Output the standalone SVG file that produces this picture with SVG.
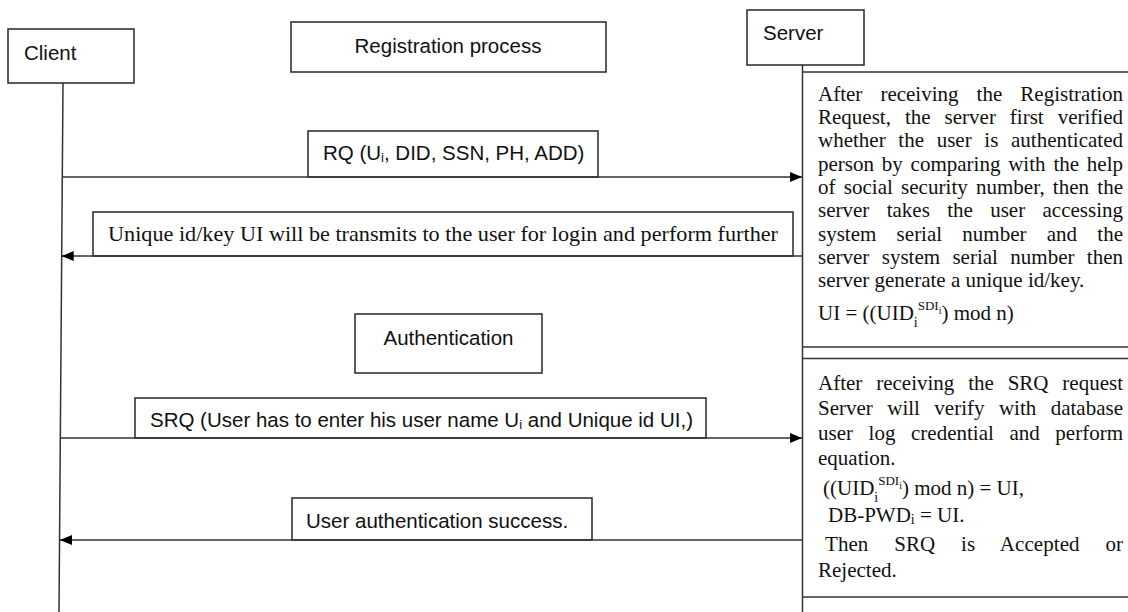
<svg xmlns="http://www.w3.org/2000/svg" width="1128" height="612" viewBox="0 0 1128 612">
<style>
.box{fill:#fff;stroke:#262626;stroke-width:1.5}
.lbl{fill:none;stroke:#262626;stroke-width:1.5}
.ln{fill:none;stroke:#333;stroke-width:1.5}
.sans{font-family:"Liberation Sans",Arial,sans-serif;font-size:20.5px;fill:#111}
.serif{font-family:"Liberation Serif","Times New Roman",serif;font-size:21px;fill:#111}
</style>
<defs>
<marker id="ah" markerUnits="userSpaceOnUse" markerWidth="12" markerHeight="10" refX="12" refY="5" orient="auto">
<path d="M0,0 L12,5 L0,10 z" fill="#000"/>
</marker>
</defs>
<rect width="1128" height="612" fill="#fff"/>
<g id="lifelines">
<path class="ln" d="M63,83 L59,612"/>
<path class="ln" d="M802.5,65 V612"/>
</g>
<g id="client">
<rect class="box" x="8" y="29" width="126" height="54"/>
<text class="sans" x="24" y="60">Client</text>
</g>
<g id="registration">
<rect class="box" x="291" y="22" width="315" height="50"/>
<text class="sans" x="448" y="53" text-anchor="middle">Registration process</text>
</g>
<g id="server">
<rect class="box" x="747" y="10" width="117" height="55"/>
<text class="sans" x="763" y="40">Server</text>
</g>
<g id="authentication">
<rect class="box" x="355" y="314" width="187" height="59"/>
<text class="sans" x="448.5" y="345" text-anchor="middle">Authentication</text>
</g>
<g id="server-panel-1">
<path class="ln" d="M802.5,72 H1128 M802.5,347 H1128"/>
<g class="serif">
<text x="818" y="100.7" word-spacing="12.8" textLength="305" lengthAdjust="spacing">After receiving the Registration</text>
<text x="818" y="124" word-spacing="8.7" textLength="305" lengthAdjust="spacing">Request, the server first verified</text>
<text x="818" y="147.3" word-spacing="7.4" textLength="305" lengthAdjust="spacing">whether the user is authenticated</text>
<text x="818" y="170.6" word-spacing="2.6" textLength="305" lengthAdjust="spacing">person by comparing with the help</text>
<text x="818" y="193.9" word-spacing="2.9" textLength="305" lengthAdjust="spacing">of social security number, then the</text>
<text x="818" y="217.2" word-spacing="12.1" textLength="305" lengthAdjust="spacing">server takes the user accessing</text>
<text x="818" y="240.5" word-spacing="15" textLength="305" lengthAdjust="spacing">system serial number and the</text>
<text x="818" y="263.8" word-spacing="7.1" textLength="305" lengthAdjust="spacing">server system serial number then</text>
<text x="818" y="287.1">server generate a unique id/key.</text>
<text x="818" y="320">UI = ((UID<tspan font-size="14" dy="7">i</tspan><tspan font-size="13" dy="-17">SDI</tspan><tspan font-size="10" dy="4">i</tspan><tspan font-size="21" dy="6">) mod n)</tspan></text>
</g>
</g>
<g id="server-panel-2">
<path class="ln" d="M802.5,358.5 H1128 M802.5,597 H1128"/>
<g class="serif">
<text x="818" y="390" word-spacing="8.6" textLength="305" lengthAdjust="spacing">After receiving the SRQ request</text>
<text x="818" y="415" word-spacing="9.2" textLength="305" lengthAdjust="spacing">Server will verify with database</text>
<text x="818" y="440" word-spacing="10.3" textLength="305" lengthAdjust="spacing">user log credential and perform</text>
<text x="818" y="465">equation.</text>
<text x="823" y="495">((UID<tspan font-size="14" dy="7">i</tspan><tspan font-size="13" dy="-17">SDI</tspan><tspan font-size="10" dy="4">i</tspan><tspan font-size="21" dy="6">) mod n)  = UI,</tspan></text>
<text x="828" y="522">DB-PWD<tspan font-size="14" dy="2">i</tspan><tspan font-size="21" dy="-2"> = UI.</tspan></text>
<text x="825" y="551" word-spacing="20.5" textLength="298" lengthAdjust="spacing">Then SRQ is Accepted or</text>
<text x="818" y="577">Rejected.</text>
</g>
</g>
<g id="rq-label">
<rect class="lbl" x="308" y="131" width="290" height="46"/>
<text class="sans" x="323" y="160">RQ (U<tspan font-size="13" dy="2">i</tspan><tspan dy="-2">, DID, SSN, PH, ADD)</tspan></text>
</g>
<g id="ui-label">
<rect class="lbl" x="93" y="212" width="700" height="44"/>
<text class="serif" x="108" y="241" font-size="22" textLength="670" lengthAdjust="spacingAndGlyphs" style="font-size:22px">Unique id/key UI will be transmits to the user for login and perform further</text>
</g>
<g id="srq-label">
<rect class="lbl" x="135" y="398" width="571" height="40"/>
<text class="sans" x="150" y="427">SRQ (User has to enter his user name U<tspan font-size="13" dy="2">i</tspan><tspan dy="-2"> and Unique id UI,)</tspan></text>
</g>
<g id="auth-success-label">
<rect class="lbl" x="292" y="498" width="300" height="42"/>
<text class="sans" x="306" y="528">User authentication success.</text>
</g>
<g id="connectors">
<path class="ln" d="M62.3,177 H802" marker-end="url(#ah)"/>
<path class="ln" d="M802,256 H61.7" marker-end="url(#ah)"/>
<path class="ln" d="M60.8,438 H802" marker-end="url(#ah)"/>
<path class="ln" d="M802,540 H60" marker-end="url(#ah)"/>
</g>
</svg>
